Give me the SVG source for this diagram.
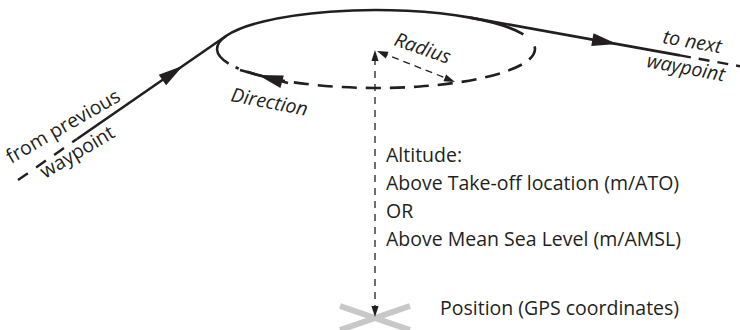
<svg xmlns="http://www.w3.org/2000/svg" width="740" height="330" viewBox="0 0 740 330">
<style>
.t{font-family:"Open Sans","Noto Sans","Liberation Sans",sans-serif;font-size:19.5px;fill:#231f20}
.i{font-style:italic}
.solid{fill:none;stroke:#231f20;stroke-width:2.6;stroke-linejoin:round}
.dash{fill:none;stroke:#231f20;stroke-width:2.6;stroke-dasharray:15 9}
.dash2{fill:none;stroke:#231f20;stroke-width:2.4;stroke-dasharray:12 10}
.thin{fill:none;stroke:#231f20;stroke-width:1.3;stroke-dasharray:7 6}
.ah{fill:#231f20}
</style>
<defs>
<path id="big" d="M0,0 L-25,-6.5 L-25,6.5 Z"/>
<path id="small" d="M0,0 L-11,-3.6 L-11,3.6 Z"/>
</defs>
<rect width="740" height="330" fill="#fff"/>

<g id="position">
<path d="M340,306 L410,330 M340,330 L410,306" stroke="#c8c8c8" stroke-width="6" fill="none"/>
</g>

<g id="connectors">
<!-- flight path -->
<path class="dash2" d="M18,180 L77,139"/>
<path class="solid" d="M77,139 L226.4,35.8 A159 39 0 0 1 470.1,17.6 L680,55.4"/>
<path class="dash2" d="M680,55.4 L745,67.1" style="stroke-dasharray:11 8"/>
<use href="#big" class="ah" transform="translate(183,65.8) rotate(-34.6)"/>
<use href="#big" class="ah" transform="translate(617,44) rotate(10.2)"/>
<!-- loiter circle -->
<path class="solid" d="M226.4,35.8 A159 39 0 0 0 228.6,63.6"/>
<path class="solid" d="M470.1,17.6 A159 39 0 0 1 523.4,34.4"/>
<path class="dash" d="M534.6,46.3 A159 39 0 0 1 235.6,67.3"/>
<path class="solid" d="M240,70 L288,83"/>
<use href="#big" class="ah" transform="translate(258,75.1) rotate(195.2)"/>
<!-- radius -->
<path class="thin" d="M381,52.5 L452,80.5" style="stroke-dasharray:7 5"/>
<use href="#small" class="ah" transform="translate(377,51) rotate(201.9)"/>
<use href="#small" class="ah" transform="translate(455,82) rotate(21.9)"/>
<!-- altitude -->
<path class="thin" d="M375,58 L375,308"/>
<use href="#small" class="ah" transform="translate(375,50) rotate(-90)"/>
<use href="#small" class="ah" transform="translate(375,317) rotate(90)"/>
</g>

<g id="labels">
<text class="t" transform="translate(11,164) rotate(-30)">from previous</text>
<text class="t" transform="translate(45,179) rotate(-31)">waypoint</text>
<text class="t i" transform="translate(230,101) rotate(11)">Direction</text>
<text class="t i" transform="translate(393,45) rotate(19)">Radius</text>
<text class="t i" transform="translate(662,43) rotate(10)">to next</text>
<text class="t i" transform="translate(646,67) rotate(10.5)">waypoint</text>
</g>

<g id="altitude">
<text class="t" x="386" y="162">Altitude:</text>
<text class="t" x="386" y="190">Above Take-off location (m/ATO)</text>
<text class="t" x="386" y="218">OR</text>
<text class="t" x="386" y="246">Above Mean Sea Level (m/AMSL)</text>
</g>

<g id="position-label">
<text class="t" x="440" y="315">Position (GPS coordinates)</text>
</g>
</svg>
